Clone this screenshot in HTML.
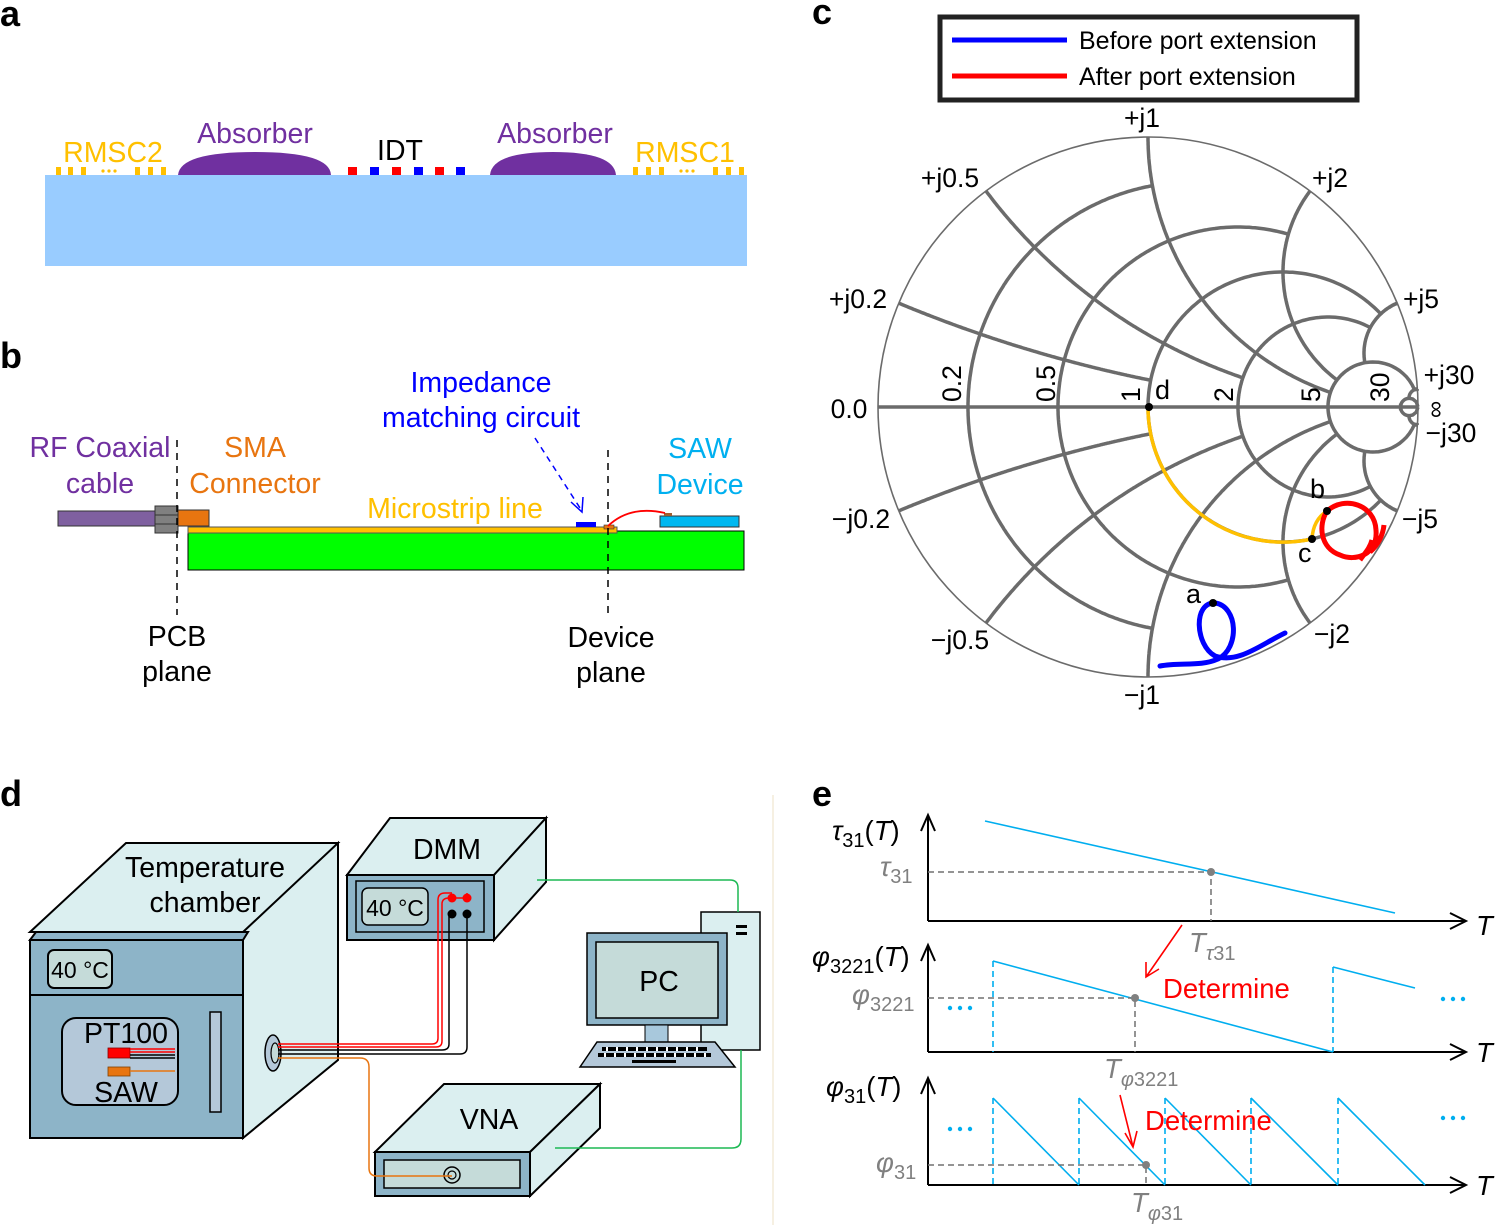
<!DOCTYPE html>
<html><head><meta charset="utf-8">
<style>
html,body{margin:0;padding:0;background:#fff;}
svg{display:block;font-family:"Liberation Sans",Arial,sans-serif;}
</style></head>
<body>
<svg id="s" width="1495" height="1232" viewBox="0 0 1495 1232" xmlns="http://www.w3.org/2000/svg">
<g font-weight="bold" font-size="36" fill="#000">
<text x="0" y="26">a</text><text x="0" y="368">b</text><text x="812" y="24">c</text><text x="0" y="806">d</text><text x="812" y="806">e</text>
</g>

<!-- ========== Panel a ========== -->
<rect x="45" y="175" width="702" height="91" fill="#99ccff"/>
<path d="M178,175 Q180,152 255,152 Q330,152 331,175 Z" fill="#7030a0"/>
<path d="M490,175 Q492,152 553,152 Q614,152 616,175 Z" fill="#7030a0"/>
<g fill="#ffc000">
<rect x="56" y="167" width="5" height="8"/><rect x="68" y="167" width="5" height="8"/><rect x="81" y="167" width="5" height="8"/>
<circle cx="103" cy="171" r="1.6"/><circle cx="109" cy="171" r="1.6"/><circle cx="115" cy="171" r="1.6"/>
<rect x="135" y="167" width="5" height="8"/><rect x="148" y="167" width="5" height="8"/><rect x="161" y="167" width="5" height="8"/>
<rect x="633" y="167" width="5" height="8"/><rect x="646" y="167" width="5" height="8"/><rect x="659" y="167" width="5" height="8"/>
<circle cx="681" cy="171" r="1.6"/><circle cx="687" cy="171" r="1.6"/><circle cx="693" cy="171" r="1.6"/>
<rect x="713" y="167" width="5" height="8"/><rect x="726" y="167" width="5" height="8"/><rect x="739" y="167" width="5" height="8"/>
</g>
<g>
<rect x="348" y="167" width="9" height="8" fill="#ff0000"/><rect x="370" y="167" width="9" height="8" fill="#0000ff"/>
<rect x="392" y="167" width="9" height="8" fill="#ff0000"/><rect x="414" y="167" width="9" height="8" fill="#0000ff"/>
<rect x="435" y="167" width="9" height="8" fill="#ff0000"/><rect x="456" y="167" width="9" height="8" fill="#0000ff"/>
</g>
<g font-size="28.5" text-anchor="middle">
<text x="113" y="162" fill="#ffc000">RMSC2</text>
<text x="255" y="143" fill="#7030a0">Absorber</text>
<text x="400" y="160" fill="#000">IDT</text>
<text x="555" y="143" fill="#7030a0">Absorber</text>
<text x="685" y="162" fill="#ffc000">RMSC1</text>
</g>

<!-- ========== Panel b ========== -->
<rect x="188" y="531" width="556" height="39" fill="#00ff00" stroke="#000" stroke-width="1"/>
<rect x="188" y="527" width="429" height="6" fill="#ffc000" stroke="#555" stroke-width="1"/>
<rect x="58" y="511" width="100" height="15" fill="#7f60a0" stroke="#333" stroke-width="1"/>
<rect x="155" y="506" width="23" height="27" fill="#808080" stroke="#333" stroke-width="1"/>
<line x1="155" y1="515" x2="178" y2="515" stroke="#333"/><line x1="155" y1="524" x2="178" y2="524" stroke="#333"/>
<rect x="178" y="510" width="31" height="16" fill="#e87510" stroke="#333" stroke-width="1"/>
<rect x="576" y="522" width="20" height="5" fill="#0000ff"/>
<rect x="660" y="516" width="79" height="11" fill="#00b8f0" stroke="#333" stroke-width="1"/>
<rect x="664" y="513" width="8" height="3" fill="#a06030"/>
<rect x="604" y="525" width="10" height="4" fill="#e87510" stroke="#333" stroke-width="0.6"/>
<path d="M608,526 Q630,505 665,513" fill="none" stroke="#ff0000" stroke-width="1.8"/>
<g stroke="#000" stroke-width="1.5" stroke-dasharray="7,6">
<line x1="177" y1="440" x2="177" y2="615"/><line x1="608" y1="450" x2="608" y2="615"/>
</g>
<line x1="535" y1="438" x2="580" y2="508" stroke="#0000ff" stroke-width="1.5" stroke-dasharray="6,5"/>
<path d="M571,502 L582,512 L583,497" fill="none" stroke="#0000ff" stroke-width="1.5"/>
<g font-size="28.5" text-anchor="middle">
<text x="100" y="457" fill="#7030a0">RF Coaxial</text><text x="100" y="493" fill="#7030a0">cable</text>
<text x="255" y="457" fill="#e87510">SMA</text><text x="255" y="493" fill="#e87510">Connector</text>
<text x="481" y="392" fill="#0000ff">Impedance</text><text x="481" y="427" fill="#0000ff">matching circuit</text>
<text x="455" y="518" fill="#ffc000">Microstrip line</text>
<text x="700" y="458" fill="#00b0f0">SAW</text><text x="700" y="494" fill="#00b0f0">Device</text>
<text x="177" y="646" fill="#000">PCB</text><text x="177" y="681" fill="#000">plane</text>
<text x="611" y="647" fill="#000">Device</text><text x="611" y="682" fill="#000">plane</text>
</g>

<!-- ========== Panel c ========== -->
<rect x="940" y="17" width="417" height="83" fill="#fff" stroke="#222" stroke-width="5"/>
<line x1="952" y1="40" x2="1067" y2="40" stroke="#0000ff" stroke-width="5"/>
<line x1="952" y1="76" x2="1067" y2="76" stroke="#ff0000" stroke-width="5"/>
<text x="1079" y="49" font-size="25">Before port extension</text>
<text x="1079" y="85" font-size="25">After port extension</text>

<g id="grid" fill="none" stroke="#6b6b6b" stroke-width="3.5"></g>
<circle cx="1148" cy="407" r="270" fill="none" stroke="#6b6b6b" stroke-width="1.6"/>
<line x1="878" y1="407" x2="1418" y2="407" stroke="#6b6b6b" stroke-width="3.5"/>

<path d="M1148,407 A135,135 0 0 0 1312,539" fill="none" stroke="#ffc000" stroke-width="3.5"/>
<path d="M1312,539 Q1313,520 1327,511" fill="none" stroke="#ffc000" stroke-width="3.5"/>
<path d="M1327,511 C1345,495 1375,505 1376,530 C1378,555 1355,562 1340,555 C1320,548 1318,525 1327,511 M1370,552 C1378,545 1383,535 1384,525 M1360,560 C1365,553 1370,548 1372,540" fill="none" stroke="#ff0000" stroke-width="5"/>
<path d="M1160,666 C1180,662 1200,667 1218,659 C1240,648 1238,606 1215,603 C1193,602 1195,645 1215,656 C1238,664 1260,645 1285,633" fill="none" stroke="#0000ff" stroke-width="5" stroke-linecap="round"/>
<g fill="#000">
<circle cx="1149" cy="407" r="4"/><circle cx="1312" cy="539" r="4"/><circle cx="1327" cy="511" r="4"/><circle cx="1213" cy="603" r="4"/>
</g>
<g font-size="27">
<text x="1186" y="603">a</text><text x="1310" y="498">b</text><text x="1298" y="562">c</text><text x="1155" y="399">d</text>
</g>
<g font-size="26.5" text-anchor="middle">
<text x="1142" y="127">+j1</text>
<text x="950" y="187">+j0.5</text>
<text x="1330" y="187">+j2</text>
<text x="858" y="308">+j0.2</text>
<text x="1421" y="308">+j5</text>
<text x="1449" y="384">+j30</text>
<text x="849" y="418">0.0</text>
<text x="1451" y="442">−j30</text>
<text x="861" y="528">−j0.2</text>
<text x="1420" y="528">−j5</text>
<text x="960" y="649">−j0.5</text>
<text x="1332" y="643">−j2</text>
<text x="1142" y="704">−j1</text>
</g>
<g font-size="26.5">
<text transform="translate(961,402) rotate(-90)">0.2</text>
<text transform="translate(1055,402) rotate(-90)">0.5</text>
<text transform="translate(1140,402) rotate(-90)">1</text>
<text transform="translate(1233,402) rotate(-90)">2</text>
<text transform="translate(1320,402) rotate(-90)">5</text>
<text transform="translate(1389,402) rotate(-90)">30</text>
<text transform="translate(1443,418) rotate(-90)" font-size="24">∞</text>
</g>

<!-- ========== Panel d ========== -->
<line x1="773" y1="795" x2="773" y2="1225" stroke="#f3ecd8" stroke-width="1.5"/>
<g stroke="#000" stroke-width="2">
<polygon points="30,932 126,843 338,843 248,932" fill="#dbeff0"/>
<polygon points="243,932 338,843 338,1060 243,1138" fill="#dbeff0"/>
<polygon points="30,940 36,932 248,932 243,940" fill="#8db4c8"/>
<rect x="30" y="940" width="213" height="55" fill="#8db4c8"/>
<rect x="30" y="995" width="213" height="143" fill="#8db4c8"/>
<rect x="48" y="950" width="64" height="38" rx="6" fill="#c5dbd9"/>
<rect x="62" y="1018" width="116" height="87" rx="14" fill="#b4c8d9"/>
<rect x="210" y="1012" width="11" height="100" fill="#b4c8d9" stroke-width="1.5"/>
<ellipse cx="273" cy="1053" rx="8" ry="18" fill="#b4c8d9" stroke-width="1.5"/>
<ellipse cx="275" cy="1053" rx="4" ry="10" fill="#c5dbd9" stroke-width="1.2"/>
<polygon points="347,875 390,818 546,818 494,875" fill="#dbeff0"/>
<polygon points="494,875 546,818 546,882 494,940" fill="#dbeff0"/>
<rect x="347" y="875" width="147" height="65" fill="#8db4c8"/>
<rect x="356" y="881" width="128" height="51" fill="#8db4c8" stroke-width="1.5"/>
<rect x="362" y="888" width="66" height="37" rx="6" fill="#c5dbd9" stroke-width="1.5"/>
<polygon points="375,1152 444,1084 600,1084 530,1152" fill="#dbeff0"/>
<polygon points="530,1152 600,1084 600,1128 530,1196" fill="#dbeff0"/>
<rect x="375" y="1152" width="155" height="44" fill="#8db4c8"/>
<rect x="384" y="1160" width="136" height="28" fill="#c5dbd9" stroke-width="1.5"/>
<circle cx="452" cy="1175" r="8" fill="#c5dbd9" stroke-width="1.5"/><circle cx="452" cy="1175" r="4" fill="#c5dbd9" stroke-width="1.2"/>
<rect x="701" y="912" width="59" height="138" fill="#dbeff0" stroke-width="1.5"/>
<rect x="587" y="933" width="140" height="92" fill="#8db4c8" stroke-width="1.5"/>
<rect x="596" y="942" width="122" height="76" fill="#c5dbd9" stroke-width="1.5"/>
<rect x="645" y="1025" width="23" height="17" fill="#a8c8dc" stroke-width="1"/>
<polygon points="580,1067 597,1042 715,1042 735,1067" fill="#b4c8d9" stroke-width="1.5"/>
</g>
<g fill="#000">
<rect x="736" y="925" width="11" height="3"/><rect x="736" y="932" width="11" height="3"/>
<rect x="602" y="1047" width="105" height="4"/><rect x="598" y="1053" width="113" height="4"/><rect x="632" y="1060" width="44" height="3"/>
</g>
<g fill="#fff"><rect x="606" y="1047" width="2" height="4"/><rect x="616" y="1047" width="2" height="4"/><rect x="626" y="1047" width="2" height="4"/><rect x="636" y="1047" width="2" height="4"/><rect x="646" y="1047" width="2" height="4"/><rect x="656" y="1047" width="2" height="4"/><rect x="666" y="1047" width="2" height="4"/><rect x="676" y="1047" width="2" height="4"/><rect x="686" y="1047" width="2" height="4"/><rect x="696" y="1047" width="2" height="4"/>
<rect x="604" y="1053" width="2" height="4"/><rect x="614" y="1053" width="2" height="4"/><rect x="624" y="1053" width="2" height="4"/><rect x="634" y="1053" width="2" height="4"/><rect x="644" y="1053" width="2" height="4"/><rect x="654" y="1053" width="2" height="4"/><rect x="664" y="1053" width="2" height="4"/><rect x="674" y="1053" width="2" height="4"/><rect x="684" y="1053" width="2" height="4"/><rect x="694" y="1053" width="2" height="4"/><rect x="704" y="1053" width="2" height="4"/></g>
<rect x="108" y="1048" width="22" height="10" fill="#ff0000" stroke="#800" stroke-width="0.8"/>
<rect x="108" y="1067" width="22" height="9" fill="#e87510" stroke="#804000" stroke-width="0.8"/>
<g fill="none" stroke-width="1.5">
<line x1="130" y1="1049" x2="175" y2="1049" stroke="#ff0000"/><line x1="130" y1="1052" x2="175" y2="1052" stroke="#ff0000"/>
<line x1="130" y1="1055" x2="175" y2="1055" stroke="#000"/><line x1="130" y1="1058" x2="175" y2="1058" stroke="#000"/>
<line x1="130" y1="1071" x2="175" y2="1071" stroke="#e87510"/>
<path d="M278,1044 H432 Q438,1044 438,1038 V900 Q438,893 445,893 H452" stroke="#ff0000"/>
<path d="M278,1047 H436 Q442,1047 442,1041 V904 Q442,898 449,898 H467 V893" stroke="#ff0000"/>
<path d="M278,1050 H442 Q449,1050 449,1044 V914 H452" stroke="#000"/>
<path d="M278,1054 H460 Q467,1054 467,1047 V914" stroke="#000"/>
<path d="M278,1058 H360 Q369,1058 369,1067 V1168 Q369,1176 377,1176 H452" stroke="#e87510"/>
<path d="M537,880 H730 Q738,880 738,888 V912" stroke="#1db954"/>
<path d="M555,1148 H732 Q741,1148 741,1139 V1050" stroke="#1db954"/>
</g>
<g fill="#ff0000"><circle cx="452" cy="898" r="4.5"/><circle cx="467" cy="898" r="4.5"/></g>
<g fill="#000"><circle cx="452" cy="914" r="4.5"/><circle cx="467" cy="914" r="4.5"/></g>
<g font-size="28.5" text-anchor="middle" fill="#000">
<text x="205" y="877">Temperature</text><text x="205" y="912">chamber</text>
<text x="80" y="978" font-size="23">40 °C</text>
<text x="395" y="916" font-size="23">40 °C</text>
<text x="126" y="1043">PT100</text><text x="126" y="1102">SAW</text>
<text x="447" y="859">DMM</text><text x="489" y="1129">VNA</text><text x="659" y="991">PC</text>
</g>

<!-- ========== Panel e ========== -->
<g stroke="#000" stroke-width="2" fill="none">
<path d="M928,921 V815 M921,831 L928,815 L935,831"/>
<path d="M928,921 H1465 M1450,913 L1466,921 L1450,929"/>
<path d="M928,1052 V945 M921,961 L928,945 L935,961"/>
<path d="M928,1052 H1465 M1450,1044 L1466,1052 L1450,1060"/>
<path d="M928,1185 V1078 M921,1094 L928,1078 L935,1094"/>
<path d="M928,1185 H1465 M1450,1177 L1466,1185 L1450,1193"/>
</g>
<g stroke="#00aeef" stroke-width="1.6" fill="none">
<line x1="985" y1="821" x2="1395" y2="913"/>
<line x1="993" y1="961" x2="1333" y2="1052"/>
<line x1="1333" y1="967" x2="1415" y2="988"/>
<line x1="993" y1="1098" x2="1079" y2="1185"/>
<line x1="1079" y1="1098" x2="1165" y2="1185"/>
<line x1="1165" y1="1098" x2="1251" y2="1185"/>
<line x1="1251" y1="1098" x2="1338" y2="1185"/>
<line x1="1338" y1="1098" x2="1425" y2="1185"/>
<g stroke-dasharray="6,4">
<line x1="993" y1="961" x2="993" y2="1052"/><line x1="1333" y1="967" x2="1333" y2="1052"/>
<line x1="993" y1="1098" x2="993" y2="1185"/><line x1="1079" y1="1098" x2="1079" y2="1185"/>
<line x1="1165" y1="1098" x2="1165" y2="1185"/><line x1="1251" y1="1098" x2="1251" y2="1185"/>
<line x1="1338" y1="1098" x2="1338" y2="1185"/>
</g>
</g>
<g stroke="#707070" stroke-width="1.5" stroke-dasharray="6,4" fill="none">
<path d="M928,872 H1211 V921"/>
<path d="M928,998 H1135 V1052"/>
<path d="M928,1165 H1146 V1185"/>
</g>
<g fill="#808080"><circle cx="1211" cy="872" r="4"/><circle cx="1135" cy="998" r="4"/><circle cx="1146" cy="1165" r="4"/></g>
<g fill="#00aeef">
<circle cx="950" cy="1008" r="2.2"/><circle cx="960" cy="1008" r="2.2"/><circle cx="970" cy="1008" r="2.2"/>
<circle cx="1443" cy="999" r="2.2"/><circle cx="1453" cy="999" r="2.2"/><circle cx="1463" cy="999" r="2.2"/>
<circle cx="950" cy="1129" r="2.2"/><circle cx="960" cy="1129" r="2.2"/><circle cx="970" cy="1129" r="2.2"/>
<circle cx="1443" cy="1118" r="2.2"/><circle cx="1453" cy="1118" r="2.2"/><circle cx="1463" cy="1118" r="2.2"/>
</g>
<g stroke="#ff0000" stroke-width="1.6" fill="none">
<path d="M1182,925 L1146,977 M1146,962 L1146,977 L1159,969"/>
<path d="M1120,1095 L1133,1147 M1125,1133 L1133,1147 L1137,1131"/>
</g>
<g font-size="27.5" fill="#ff0000"><text x="1163" y="998">Determine</text><text x="1145" y="1130">Determine</text></g>
<g font-size="27.5" font-style="italic" fill="#000">
<text x="832" y="840">τ<tspan font-size="20" dy="7" font-style="normal">31</tspan><tspan dy="-7" font-style="normal">(</tspan>T<tspan font-style="normal">)</tspan></text>
<text x="812" y="966">φ<tspan font-size="20" dy="7" font-style="normal">3221</tspan><tspan dy="-7" font-style="normal">(</tspan>T<tspan font-style="normal">)</tspan></text>
<text x="826" y="1096">φ<tspan font-size="20" dy="7" font-style="normal">31</tspan><tspan dy="-7" font-style="normal">(</tspan>T<tspan font-style="normal">)</tspan></text>
<text x="1476" y="935">T</text><text x="1476" y="1062">T</text><text x="1476" y="1195">T</text>
</g>
<g font-size="27.5" font-style="italic" fill="#808080">
<text x="880" y="876">τ<tspan font-size="20" dy="7" font-style="normal">31</tspan></text>
<text x="852" y="1004">φ<tspan font-size="20" dy="7" font-style="normal">3221</tspan></text>
<text x="876" y="1172">φ<tspan font-size="20" dy="7" font-style="normal">31</tspan></text>
<text x="1189" y="952">T<tspan font-size="20" dy="8">τ</tspan><tspan font-size="20" font-style="normal">31</tspan></text>
<text x="1104" y="1078">T<tspan font-size="20" dy="8">φ</tspan><tspan font-size="20" font-style="normal">3221</tspan></text>
<text x="1131" y="1212">T<tspan font-size="20" dy="8">φ</tspan><tspan font-size="20" font-style="normal">31</tspan></text>
</g>
</svg>
<script>
(function(){
var g=document.getElementById('grid');
function P(u,v){return (1148+270*u).toFixed(1)+','+(407-270*v).toFixed(1);}
function gam(r,x){var dr=r+1,d=dr*dr+x*x;return [((r-1)*(r+1)+x*x)/d,(2*x)/d];}
function add(pts){var p=document.createElementNS('http://www.w3.org/2000/svg','path');p.setAttribute('d','M'+pts.join(' L'));g.appendChild(p);}
var rc=[[0.2,1],[0.5,2],[1,5],[2,5],[5,30],[30,3000]];
rc.forEach(function(a){var r=a[0],xm=Math.atan(a[1]),pts=[];for(var i=0;i<=300;i++){var t=-xm+2*xm*i/300;var q=gam(r,Math.tan(t));pts.push(P(q[0],q[1]));}add(pts);});
var xc=[[0.2,1],[0.5,2],[1,5],[2,5],[5,5],[30,30]];
xc.forEach(function(a){[1,-1].forEach(function(sg){var x=a[0]*sg,rm=Math.atan(a[1]),pts=[];for(var i=0;i<=200;i++){var t=rm*i/200;var q=gam(Math.tan(t),x);pts.push(P(q[0],q[1]));}add(pts);});});
})();
</script>
</body></html>
